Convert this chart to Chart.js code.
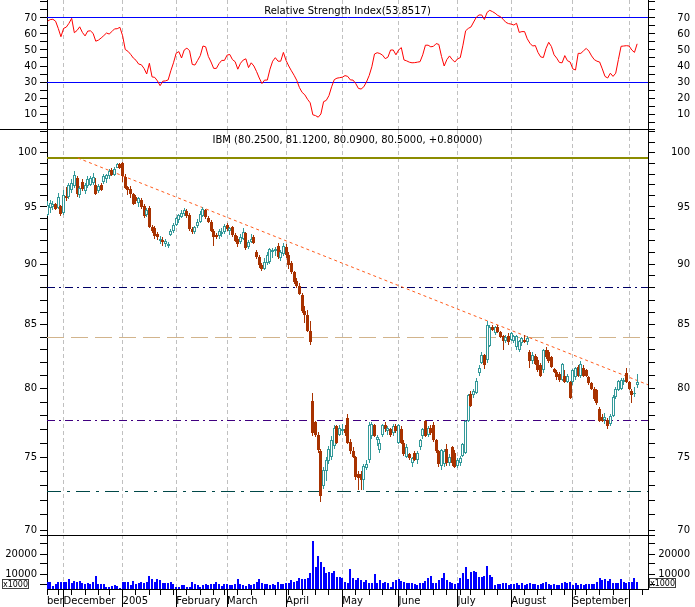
<!DOCTYPE html>
<html>
<head>
<meta charset="utf-8">
<title>IBM daily with RSI</title>
<script src="https://cdn.jsdelivr.net/npm/chart.js@4.4.1/dist/chart.umd.min.js"></script>
<style>
  html, body { margin: 0; padding: 0; background: #fff; }
  .panel { position: absolute; left: 0; width: 695px; }
  canvas { display: block; }
</style>
</head>
<body>
<div class="panel" style="top:0;height:130px"><canvas id="rsiChart" width="695" height="130"></canvas></div>
<div class="panel" style="top:130px;height:405px"><canvas id="priceChart" width="695" height="405"></canvas></div>
<div class="panel" style="top:535px;height:72px"><canvas id="volChart" width="695" height="72"></canvas></div>
<script>
// trading-day index of the first session of each month, and the axis text
const monthStarts = [6, 28, 48, 67, 89, 110, 131, 153, 173, 196, 217];
const monthNames  = ['December', '2005', 'February', 'March', 'April', 'May', 'June', 'July', 'August', 'September', ''];
const weekStarts  = [0,4,9,14,19,23,28,33,38,42,47,52,57,62,66,71,76,81,85,90,95,100,105,110,115,120,125,130,
                     134,139,144,149,154,158,163,168,173,178,183,188,193,197,201,206,211,217,222];
const rsiTicks   = [5,10,15,20,25,30,35,40,45,50,55,60,65,70,75,80];
const priceTicks = [70,71,72,73,74,75,76,77,78,79,80,81,82,83,84,85,86,87,88,89,90,91,92,93,94,95,96,97,98,99,100,101,102];
const volTicks   = [5000, 10000, 15000, 20000, 25000];

// IBM daily quotes, 22 Nov 2004 .. 6 Oct 2005
const open = [
  94.3,94.9,95.0,95.3,94.9,95.1,94.5,96.0,95.9,96.5,
  96.9,97.6,96.1,97.3,96.4,96.9,97.0,97.2,97.0,96.4,
  97.0,97.3,97.5,97.8,98.4,97.9,98.6,98.9,99.0,97.7,
  96.8,96.6,96.2,95.9,95.4,95.6,95.1,94.3,94.9,93.2,
  93.1,92.6,92.0,92.1,91.7,91.6,92.5,92.9,93.4,93.8,
  94.1,94.4,94.6,94.3,93.0,92.8,93.3,93.7,94.2,94.7,
  94.0,93.7,92.9,92.5,92.4,92.6,92.8,93.4,92.9,93.2,
  92.5,92.2,91.9,92.2,92.7,91.5,91.9,92.3,91.0,90.6,
  89.9,89.6,90.1,90.2,91.0,91.1,91.6,90.5,90.9,91.5,
  90.8,90.1,89.3,88.6,88.2,87.4,86.1,85.8,84.5,79.1,
  77.5,76.6,75.4,73.0,74.0,74.7,75.0,75.8,77.2,76.6,
  76.9,77.0,77.8,76.1,75.4,75.0,73.8,73.8,73.4,74.2,
  74.8,76.5,77.3,76.2,75.5,76.6,77.3,76.9,77.0,76.7,
  77.2,76.0,77.0,76.0,75.0,75.2,74.6,75.3,74.8,75.7,
  76.5,77.6,76.6,77.1,77.3,76.2,75.4,74.4,74.5,75.6,
  74.6,75.7,75.3,74.4,74.6,75.1,75.3,77.6,79.6,79.5,
  79.7,81.2,82.0,82.6,82.2,83.3,84.8,84.3,84.8,84.4,
  84.1,83.7,84.1,83.8,83.7,83.2,83.0,83.5,83.8,83.6,
  82.8,82.1,82.5,82.2,81.8,81.4,83.0,82.8,82.4,81.5,
  81.3,81.1,80.7,81.0,80.5,80.5,80.5,80.9,81.7,81.0,
  81.6,81.4,80.9,80.4,80.0,79.9,78.5,77.9,77.7,77.7,
  77.4,78.0,79.4,79.9,80.0,80.5,81.2,80.5,79.8,79.6,
  80.25];
const high = [
  95.5,95.6,95.5,95.4,96.3,95.2,96.5,96.8,97.2,97.5,
  98.3,97.8,96.9,97.5,97.2,97.8,97.8,98.1,97.6,97.1,
  97.2,98.0,98.0,98.5,98.6,98.7,99.0,99.0,99.1,98.0,
  96.9,96.9,96.3,96.1,95.9,95.8,95.3,94.9,95.1,93.4,
  93.3,92.8,92.4,92.3,92.2,91.9,93.0,93.6,94.1,94.4,
  94.7,94.9,94.8,94.5,93.2,93.3,93.9,94.6,95.0,94.8,
  94.2,93.8,93.0,92.7,93.0,93.1,93.5,93.6,93.2,93.3,
  92.7,92.4,92.6,93.1,92.8,92.1,92.6,92.5,91.2,90.8,
  90.1,90.5,91.0,91.4,91.4,91.5,91.8,91.2,91.8,91.7,
  91.0,90.3,89.4,88.8,88.4,87.6,86.5,86.2,85.3,79.7,
  77.6,76.8,75.6,74.3,75.0,75.8,76.5,77.3,77.3,77.3,
  77.4,77.3,78.1,76.3,75.7,75.1,74.0,74.0,74.5,74.8,
  77.5,77.5,77.4,76.6,76.3,77.4,77.5,77.2,77.1,77.4,
  77.4,77.4,77.2,76.2,75.9,75.3,75.0,75.4,75.4,76.3,
  77.1,77.7,77.2,77.3,77.5,76.3,75.5,75.6,75.6,75.9,
  75.2,75.8,75.5,74.9,75.1,76.0,77.7,79.6,79.8,80.0,
  80.8,81.8,82.8,82.7,85.3,85.0,85.0,84.9,85.0,84.5,
  84.2,84.2,84.3,84.4,84.2,84.2,83.8,84.0,84.2,84.1,
  83.0,82.8,82.7,82.4,82.0,83.1,83.2,83.0,82.5,81.6,
  81.4,81.3,82.0,81.4,81.1,80.6,81.5,81.7,81.8,82.1,
  81.8,81.5,81.0,80.5,80.1,80.0,78.6,78.1,78.2,77.8,
  78.1,79.5,80.1,80.7,80.8,80.8,81.6,80.6,80.0,80.1,
  81.12];
const low = [
  94.2,94.5,94.7,94.7,94.8,94.2,94.3,95.5,95.7,96.3,
  96.7,95.9,95.8,96.4,96.2,96.7,96.9,97.0,96.1,96.3,
  96.4,97.1,97.2,97.5,97.8,97.8,98.6,98.5,97.3,96.6,
  96.1,95.8,95.2,95.3,95.0,94.8,94.0,94.1,93.1,92.7,
  92.2,92.1,91.7,91.6,91.5,91.4,92.4,92.7,93.3,93.6,
  94.0,94.2,94.0,92.9,92.6,92.6,93.1,93.6,94.1,93.9,
  93.6,92.8,91.6,92.2,92.2,92.3,92.6,92.9,92.5,92.3,
  91.9,91.5,91.7,92.1,91.2,91.3,91.8,91.7,90.4,89.7,
  89.4,89.5,89.9,90.0,90.5,90.7,90.4,90.3,90.7,90.5,
  89.6,89.2,88.3,88.0,87.4,85.9,85.1,84.4,83.4,76.5,
  76.4,75.3,71.85,72.8,73.3,74.5,74.8,75.6,75.9,76.5,
  76.6,76.5,75.9,75.2,74.9,73.4,72.7,72.7,72.7,74.1,
  74.6,76.3,76.4,75.8,75.3,76.4,76.8,76.6,76.4,76.5,
  76.7,75.9,75.9,75.1,74.9,74.8,74.3,74.7,74.5,75.5,
  76.3,76.4,76.4,76.6,76.1,75.3,74.3,74.1,74.3,74.4,
  74.4,74.4,74.2,74.2,74.4,75.0,75.2,77.5,78.6,79.3,
  79.6,81.0,81.9,81.5,82.0,83.2,84.5,84.2,84.3,83.9,
  83.0,83.5,83.4,83.7,83.5,83.0,82.8,83.3,83.5,83.4,
  81.6,81.9,81.8,81.3,80.9,81.2,82.3,82.0,81.6,81.2,
  80.7,80.5,80.6,80.4,80.4,79.2,80.3,80.7,80.9,80.8,
  80.9,80.9,80.3,79.9,79.1,78.8,77.5,77.5,77.4,77.0,
  77.2,77.9,79.2,79.8,79.9,80.3,80.4,79.9,78.9,79.4,
  80.09];
const close = [
  95.2,95.4,95.3,94.8,95.9,94.4,96.1,95.8,97.0,97.2,
  97.9,96.2,96.7,96.6,97.0,97.5,97.6,97.7,96.2,96.9,
  96.5,97.8,97.9,98.3,97.9,98.5,98.9,98.6,97.8,96.7,
  96.5,96.2,95.3,95.5,95.8,95.0,94.2,94.7,93.2,92.9,
  92.4,92.3,92.2,91.9,92.0,91.7,92.9,93.4,94.0,94.3,
  94.5,94.7,94.2,93.0,92.8,93.2,93.7,94.4,94.8,94.1,
  93.7,92.9,92.3,92.3,92.9,92.8,93.3,93.0,93.1,92.5,
  92.0,91.7,92.3,92.8,91.4,91.9,92.2,91.8,90.6,89.9,
  89.6,90.2,90.8,91.3,91.2,91.3,90.6,91.0,91.6,90.8,
  89.9,89.3,88.5,88.2,87.5,86.1,85.8,84.5,83.6,76.7,
  76.6,75.5,72.3,74.1,74.8,75.6,76.2,77.1,76.0,77.1,
  77.0,76.7,76.0,75.4,75.0,73.6,73.5,73.4,74.4,74.5,
  77.3,77.4,76.5,76.4,76.0,77.3,77.0,77.1,76.6,77.2,
  76.9,77.3,76.0,75.2,75.7,74.9,74.9,74.8,75.3,76.2,
  77.0,76.5,77.1,76.7,76.2,75.4,74.5,75.5,75.4,74.6,
  75.0,74.6,74.3,74.8,74.9,75.9,77.6,79.5,78.7,79.8,
  80.6,81.6,82.6,81.8,85.0,84.8,84.6,84.8,84.4,84.0,
  83.7,84.0,83.6,84.3,84.1,84.1,83.7,83.9,83.6,83.9,
  82.1,82.6,81.9,81.4,81.0,83.0,82.4,82.1,81.7,81.3,
  80.9,80.7,81.9,80.5,81.0,79.3,81.4,81.6,81.0,81.9,
  81.0,81.0,80.4,80.0,79.2,78.9,77.6,77.6,77.9,77.2,
  78.0,79.4,80.0,80.6,80.7,80.7,80.5,80.0,79.5,79.7,
  80.5];
// shares traded, in thousands
const volume = [
  6000,6000,4000,5000,6000,6000,6200,6000,7300,5700,
  6500,5800,6300,5300,4800,5300,4800,6000,9000,5000,
  5000,5000,3700,3700,4000,4500,4000,3200,5800,6000,
  6000,4500,6500,5000,5300,6000,5700,5800,9000,7500,
  6200,7300,7000,5300,5700,5300,5800,4800,3700,3700,
  4500,4300,3300,3700,6000,5000,4500,3300,4500,4800,
  4700,5000,5000,5800,5000,4000,5000,5000,4700,4500,
  5000,7300,5000,4500,4200,5000,4300,5200,6000,7500,
  5500,4800,5000,4500,5200,4700,6200,5000,4800,5500,
  5300,7000,6200,6500,8200,7500,7300,8000,10700,26700,
  13700,19000,16200,13700,10300,11200,10700,11700,8300,8300,
  7800,6200,5700,12300,7800,7000,7800,7000,6200,7000,
  5700,5700,10000,5700,7000,5300,6200,5700,3300,6200,
  7000,7300,6500,6000,5700,5300,5700,5000,4500,5700,
  5300,6700,7800,9200,5300,5700,7000,8200,10700,7000,
  6200,5300,5000,5700,8200,10700,13300,7300,11200,11500,
  11200,8700,8300,9000,14000,9500,8700,4500,4800,4800,
  5300,5700,4500,4800,5000,5300,4500,5300,4500,5000,
  5300,4800,5000,4500,4800,5700,6200,5000,4500,5000,
  4500,4500,5700,6000,5700,6200,4500,5300,4500,4800,
  4500,4800,5000,5000,5000,6200,8200,7000,7300,6700,
  7300,5700,5300,5700,7700,6200,5300,6200,6200,8200,
  6200];
const rsi = [
  68,69,69.2,68,63.5,58.3,63.5,64.3,66.7,69.8,
  60.8,62.2,64.5,61,58.8,61.8,62,60.4,55.5,56.2,
  57.5,59,60.6,60,61.5,63.2,63.3,64.2,59,50.3,
  49.2,47.3,45,43.6,41.2,40.8,38.5,35,41.7,33.2,
  32.9,30.7,27.7,30.5,30.7,31.3,37,42,48,49,
  45,50,51.2,49.5,41,40.6,43.5,46.5,52.5,52,
  46,42.5,38.5,38.5,41.5,43.5,43.5,46.8,47.2,44,
  42.7,38,41.7,43.7,44.5,39,42,40,36.5,32.5,
  29,31.2,31.2,38,43,45.2,43,43,48.5,43.5,
  40,37,34.2,31,26.5,23.5,22,19.2,17,9.5,
  9,8,10,17.7,18.5,21.5,27,31.5,32.4,32.7,
  33,34,33.5,31.3,31.2,29,26,25.6,27,30,
  34,39.5,47.5,48.3,47.8,46.8,44.6,45.5,50,50,
  47,50,51.5,43.8,43.2,42.4,42,42.1,42.4,42.7,
  47,53,53,52,52.3,54,53.5,46,40,44,
  46.3,44,42.5,44.5,45.2,53,62,63.5,64.4,67.5,
  70.5,71.9,71.9,69,73.5,74.8,74,73,71.6,70.8,
  69.2,67.3,66.5,66.2,65.6,66.7,61,61.5,61.5,57,
  54.2,52.5,52.8,48.5,45.7,45.3,51,54.8,52.2,47,
  44.9,42.2,42,46.5,43.3,42.5,38.2,37.5,47.9,47.9,
  49.5,51,49.3,46.3,44,43,42.5,38.2,33.5,32.5,
  35.5,33.5,35.5,44,52.3,52.5,52.7,52.5,50,48.5,
  53.85];

// study lines drawn on the price panel
const levels = [99.5, 88, 84, 77.6, 72.6];
const rsiBands = [70, 30];
const trendX = [11.3, 224.05];
const trendY = [99.5, 80.3];

const levelStyle = [
  { color: '#8c8c00', width: 2, dash: [] },
  { color: '#000066', width: 1, dash: [8, 4, 2, 4] },
  { color: '#d2b48c', width: 1, dash: [17, 7] },
  { color: '#400080', width: 1, dash: [8, 4, 2, 4] },
  { color: '#004848', width: 1, dash: [14, 6, 3, 6] }
];

const X_MIN = -0.2, X_MAX = 224.05;
const TEAL = '#339999', RED = '#a83200';
const idx = close.map((c, i) => i);
const rising = idx.map(i => close[i] >= open[i]);

Chart.defaults.font.family = "'DejaVu Sans', Verdana, sans-serif";
Chart.defaults.font.size = 10;
Chart.defaults.color = '#000';

function baseOptions() {
  return {
    responsive: false, animation: false, devicePixelRatio: 1,
    layout: { padding: { left: 0, right: 5, top: 0, bottom: 0 }, autoPadding: false },
    plugins: { legend: { display: false }, tooltip: { enabled: false } }
  };
}

function xAxis(withLabels) {
  const hideFirst = c => c.tick && c.tick.value === X_MIN;
  return {
    type: 'linear', min: X_MIN, max: X_MAX, offset: false, bounds: 'data',
    afterBuildTicks: s => { s.ticks = (withLabels ? [X_MIN].concat(monthStarts) : monthStarts).map(v => ({ value: v })); },
    afterFit: s => { s.height = withLabels ? 18 : 0; s.paddingLeft = 0; s.paddingRight = 0; },
    grid: {
      offset: false, drawTicks: withLabels, tickLength: 18,
      color: c => hideFirst(c) ? 'rgba(0,0,0,0)' : '#c0c0c0',
      tickColor: c => hideFirst(c) ? 'rgba(0,0,0,0)' : '#000'
    },
    border: { display: withLabels, color: '#000', dash: [4, 3] },
    ticks: {
      display: withLabels, autoSkip: false, maxRotation: 0, minRotation: 0, align: 'start', padding: -12,
      callback: v => v === X_MIN ? 'ber' : monthNames[monthStarts.indexOf(v)]
    }
  };
}

function yAxis(pos, type, min, max, ticks, label) {
  return {
    type: type, position: pos, min: min, max: max, bounds: 'data',
    afterBuildTicks: s => { s.ticks = ticks.map(v => ({ value: v })); },
    afterFit: s => { s.width = pos === 'left' ? 47 : 42; s.paddingTop = 0; s.paddingBottom = 0; },
    grid: { drawOnChartArea: false, color: '#000', tickLength: 7 },
    border: { color: '#000' },
    ticks: { autoSkip: false, padding: 3, crossAlign: pos === 'left' ? 'near' : 'far', callback: label }
  };
}

function hline(y, st) {
  return {
    type: 'line', data: [{ x: X_MIN, y: y }, { x: X_MAX, y: y }], flat: true, order: 2,
    borderColor: st.color, borderWidth: st.width, borderDash: st.dash, pointRadius: 0
  };
}

// put bars and flat lines on whole pixels so the small candles stay sharp
const snap = {
  id: 'snap',
  beforeDatasetsDraw(chart) {
    chart.data.datasets.forEach((ds, di) => {
      const meta = chart.getDatasetMeta(di);
      if (meta.type === 'bar') {
        meta.data.forEach(el => {
          el.x = ds.barThickness % 2 ? Math.floor(el.x) + 0.5 : Math.round(el.x);
          el.y = Math.round(el.y);
          el.base = Math.round(el.base);
        });
      } else if (ds.flat) {
        meta.data.forEach(p => { p.y = ds.borderWidth % 2 ? Math.floor(p.y) + 0.5 : Math.round(p.y); });
      }
    });
  }
};

function caption(text, baseline) {
  return {
    id: 'caption',
    afterDraw(chart) {
      const { ctx, chartArea } = chart;
      ctx.save();
      ctx.font = "10px 'DejaVu Sans'";
      ctx.fillStyle = '#000';
      ctx.textAlign = 'center';
      ctx.textBaseline = 'alphabetic';
      ctx.fillText(text, (chartArea.left + chartArea.right) / 2, baseline);
      ctx.restore();
    }
  };
}

// ---- RSI panel ----
const rsiOpts = baseOptions();
rsiOpts.scales = {
  x: xAxis(false),
  y: yAxis('left', 'linear', 0, 81.25, rsiTicks, v => (v % 10 === 0 && v <= 70) ? String(v) : ''),
  yr: yAxis('right', 'linear', 0, 81.25, rsiTicks, v => (v % 10 === 0 && v <= 70) ? String(v) : '')
};
new Chart(document.getElementById('rsiChart'), {
  type: 'line',
  data: {
    datasets: [
      { data: rsi.map((v, i) => ({ x: i, y: v })), borderColor: '#ff0000', borderWidth: 1, pointRadius: 0, tension: 0, order: 0 }
    ].concat(rsiBands.map(b => hline(b, { color: '#0000ff', width: 1, dash: [] })))
  },
  options: rsiOpts,
  plugins: [snap, caption('Relative Strength Index(53.8517)', 13.5), {
    id: 'sep',
    afterDraw(chart) { chart.ctx.fillStyle = '#000'; chart.ctx.fillRect(0, 129, 655, 1); }
  }]
});

// ---- price panel ----
const priceOpts = baseOptions();
priceOpts.scales = {
  x: xAxis(false),
  y: yAxis('left', 'logarithmic', 69.67, 102.169, priceTicks, v => v % 5 === 0 ? String(v) : ''),
  yr: yAxis('right', 'logarithmic', 69.67, 102.169, priceTicks, v => v % 5 === 0 ? String(v) : '')
};
new Chart(document.getElementById('priceChart'), {
  type: 'bar',
  data: {
    datasets: [
      {
        type: 'bar', order: 0, grouped: false, barThickness: 3, minBarLength: 1, inflateAmount: 0,
        borderSkipped: false, borderWidth: 1,
        data: idx.map(i => ({ x: i, y: [Math.min(open[i], close[i]), Math.max(open[i], close[i])] })),
        backgroundColor: idx.map(i => rising[i] ? '#ffffff' : RED),
        borderColor: idx.map(i => rising[i] ? TEAL : RED)
      },
      {
        type: 'bar', order: 1, grouped: false, barThickness: 1, minBarLength: 1, inflateAmount: 0, borderWidth: 0,
        data: idx.map(i => ({ x: i, y: [low[i], high[i]] })),
        backgroundColor: idx.map(i => rising[i] ? TEAL : RED)
      },
      {
        type: 'line', order: 1, data: trendX.map((x, k) => ({ x: x, y: trendY[k] })),
        borderColor: '#ff5a1a', borderWidth: 1, borderDash: [3, 3], pointRadius: 0
      }
    ].concat(levels.map((lv, k) => hline(lv, levelStyle[k])))
  },
  options: priceOpts,
  plugins: [snap, caption('IBM (80.2500, 81.1200, 80.0900, 80.5000, +0.80000)', 12.5)]
});

// ---- volume panel ----
const volOpts = baseOptions();
volOpts.scales = {
  x: xAxis(true),
  y: yAxis('left', 'linear', 2500, 29500, volTicks, v => (v === 10000 || v === 20000) ? String(v) : ''),
  yr: yAxis('right', 'linear', 2500, 29500, volTicks, v => (v === 10000 || v === 20000) ? String(v) : '')
};
new Chart(document.getElementById('volChart'), {
  type: 'bar',
  data: {
    datasets: [{
      data: volume.map((v, i) => ({ x: i, y: v })), backgroundColor: '#0000ff',
      barThickness: 2, inflateAmount: 0, borderWidth: 0, grouped: false
    }]
  },
  options: volOpts,
  plugins: [snap, {
    id: 'volDecor',
    afterDraw(chart) {
      const { ctx, chartArea: a, scales: { x } } = chart;
      ctx.save();
      ctx.fillStyle = '#000';
      ctx.fillRect(40, 0, 615, 1);
      weekStarts.filter(w => monthStarts.indexOf(w) < 0).forEach(w => {
        ctx.fillRect(Math.floor(x.getPixelForValue(w)), a.bottom + 1, 1, 5);
      });
      ctx.strokeStyle = '#404040';
      ctx.lineWidth = 1;
      ctx.strokeRect(2.5, 44.5, 26, 9);
      ctx.strokeRect(649.5, 43.5, 26, 9);
      ctx.font = "8px 'DejaVu Sans'";
      ctx.textAlign = 'center';
      ctx.textBaseline = 'middle';
      ctx.fillText('x1000', 15.5, 49.5);
      ctx.fillText('x1000', 662.5, 48.5);
      ctx.restore();
    }
  }]
});
</script>
</body>
</html>
